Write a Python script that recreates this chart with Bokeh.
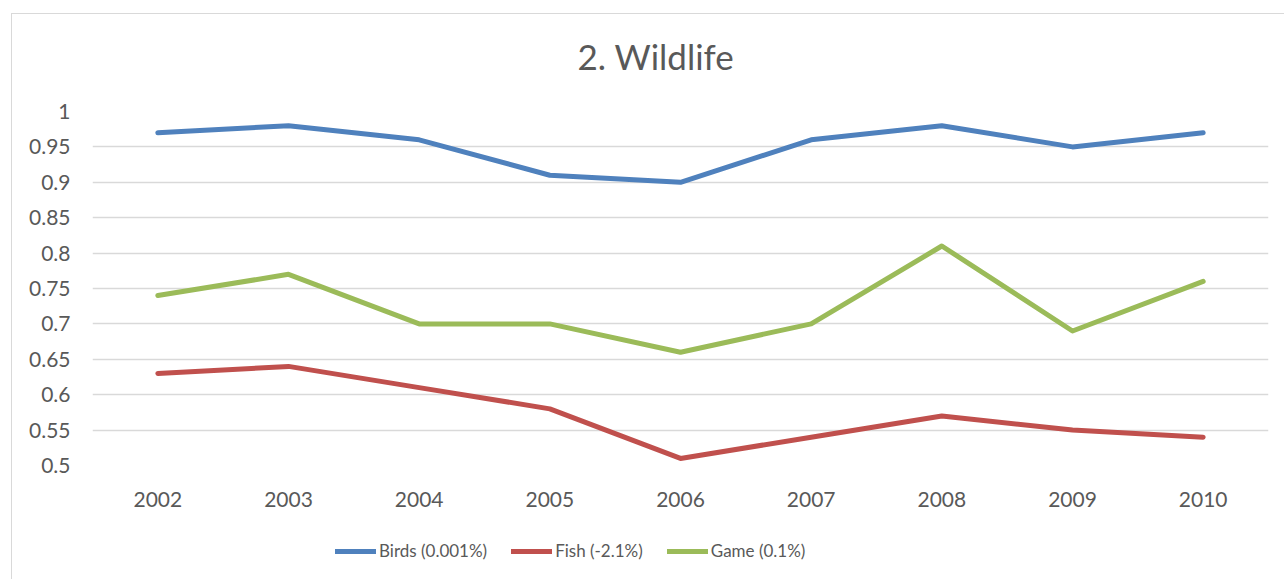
from bokeh.plotting import figure
from bokeh.layouts import column
from bokeh.models import Range1d, FixedTicker, Legend, LegendItem
from bokeh.embed import file_html
from bokeh.resources import INLINE

years = ["2002", "2003", "2004", "2005", "2006", "2007", "2008", "2009", "2010"]
birds = [0.97, 0.98, 0.96, 0.91, 0.90, 0.96, 0.98, 0.95, 0.97]
fish = [0.63, 0.64, 0.61, 0.58, 0.51, 0.54, 0.57, 0.55, 0.54]
game = [0.74, 0.77, 0.70, 0.70, 0.66, 0.70, 0.81, 0.69, 0.76]
series_names = ["Birds (0.001%)", "Fish (-2.1%)", "Game (0.1%)"]
y_ticks = [0.5, 0.55, 0.6, 0.65, 0.7, 0.75, 0.8, 0.85, 0.9, 0.95, 1.0]
y_tick_labels = ["0.5", "0.55", "0.6", "0.65", "0.7", "0.75", "0.8", "0.85", "0.9", "0.95", "1"]
title_text = "2. Wildlife"

FONT = "Lato"
TXT = "#595959"
colors = ["#4F81BD", "#C0504D", "#9BBB59"]

p = figure(width=1272, height=515, x_range=years, y_range=Range1d(0.5, 1.0),
           output_backend="svg", toolbar_location=None,
           min_border_left=80, min_border_right=16, min_border_top=97, min_border_bottom=64)

p.title.text = title_text
p.title.align = "left"
p.title.offset = 485
p.title.standoff = 34
p.title.vertical_align = "top"
p.title.padding = {"left": 0, "right": 0, "top": 0, "bottom": 16}
p.title.text_font = FONT
p.title.text_font_size = "35px"
p.title.text_font_style = "normal"
p.title.text_color = TXT

p.outline_line_color = None
p.xgrid.grid_line_color = None
p.ygrid.grid_line_color = "#D9D9D9"
p.ygrid.grid_line_width = 1.5
p.yaxis.ticker = FixedTicker(ticks=y_ticks)
p.yaxis.major_label_overrides = {t: l for t, l in zip(y_ticks, y_tick_labels)}

for ax in (p.xaxis[0], p.yaxis[0]):
    ax.axis_line_color = None
    ax.major_tick_line_color = None
    ax.minor_tick_line_color = None
    ax.major_label_text_font = FONT
    ax.major_label_text_font_size = "21px"
    ax.major_label_text_color = TXT
p.yaxis.major_label_standoff = 16
p.xaxis.major_label_standoff = 20

for vals, c in zip([birds, fish, game], colors):
    p.line(years, vals, line_color=c, line_width=5, line_cap="round", line_join="round")

# legend strip below the chart
q = figure(width=1272, height=50, x_range=Range1d(0, 1), y_range=Range1d(0, 1),
           output_backend="svg", toolbar_location=None,
           x_axis_location=None, y_axis_location=None,
           min_border_left=0, min_border_right=0, min_border_top=0, min_border_bottom=0)
q.grid.visible = False
q.outline_line_color = None
items = []
for name, c in zip(series_names, colors):
    r = q.line([-2, -1], [-2, -1], line_color=c, line_width=5, line_cap="round")
    items.append(LegendItem(label=name, renderers=[r]))
legend = Legend(items=items, orientation="horizontal", location=(243, 18),
                label_text_font=FONT, label_text_font_size="17px", label_text_color=TXT,
                glyph_width=41, glyph_height=20, label_standoff=3, spacing=24,
                padding=0, margin=0, border_line_alpha=0, background_fill_alpha=0)
q.add_layout(legend, "center")

layout = column(p, q, spacing=0)
layout.margin = (13, 0, 0, 11)
layout.styles = {"border-left": "1.5px solid #D9D9D9", "border-top": "1.5px solid #D9D9D9"}

open("out.html", "w").write(file_html(layout, INLINE))
